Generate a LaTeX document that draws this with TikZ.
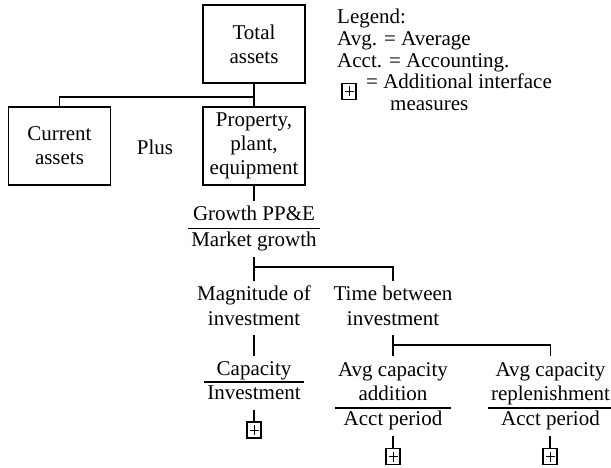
\documentclass[tikz,border=0pt]{standalone}
\usepackage{fontspec}
\setmainfont{Liberation Serif}
\usetikzlibrary{calc}
\setlength\tabcolsep{3bp}
\setlength\arrayrulewidth{1.5bp}
\begin{document}
\begin{tikzpicture}[x=1bp,y=-1bp,
  every node/.style={font=\fontsize{21bp}{24bp}\selectfont},
  conn/.style={line width=1.6bp},
  block/.style={draw, line width=1.8bp, minimum width=102bp, minimum height=78bp, align=center, inner sep=0},
  lbl/.style={inner sep=0, outer sep=3bp},
  addbox/.style={draw, line width=1.6bp, minimum width=14bp, minimum height=16bp, inner sep=0,
    path picture={
      \coordinate (pc) at (path picture bounding box.center);
      \draw[line width=0.8bp] ($(pc)+(-4.5bp,0)$) -- ($(pc)+(4.5bp,0)$)
                              ($(pc)+(0,-5bp)$) -- ($(pc)+(0,5bp)$);}},
]
\useasboundingbox (0,0) rectangle (611,468);

% top level: total assets and its two parts
\node[block] (total) at (254,44) {Total\\assets};
\node[block] (current) at (59.5,146) {Current\\assets};
\node[block] (ppe) at (254,146) {Property,\\plant,\\equipment};
\node (plus) at (155,147) {Plus};

% ratio chain
\node[lbl, anchor=north] (growth) at (254,201)
  {\begin{tabular}{c}Growth PP\&E\\\hline Market growth\end{tabular}};
\node[lbl, anchor=north] (mag) at (254,281.2)
  {\begin{tabular}{c}Magnitude of\\investment\end{tabular}};
\node[lbl, anchor=north] (time) at (393,281.2)
  {\begin{tabular}{c}Time between\\investment\end{tabular}};
\node[lbl, anchor=north] (capacity) at (254,356)
  {\begin{tabular}{c}Capacity\\\noalign{\vskip-2bp}\hline Investment\end{tabular}};
\node[lbl, anchor=north] (addition) at (393,356.2)
  {\begin{tabular}{c}Avg capacity\\addition\\\hline Acct period\end{tabular}};
\node[lbl, anchor=north] (repl) at (550.5,356.2)
  {\begin{tabular}{c}Avg capacity\\replenishment\\\hline Acct period\end{tabular}};

% additional interface measure markers
\node[addbox] (m1) at (254,430) {};
\node[addbox] (m2) at (393,456.5) {};
\node[addbox] (m3) at (550,456.5) {};

% legend
\node[anchor=base west, inner sep=0] (leg1) at (337,24) {Legend:};
\node[anchor=base west, inner sep=0] (leg2) at (337,46) {Avg. = Average};
\node[anchor=base west, inner sep=0] (leg3) at (337,68) {Acct. = Accounting.};
\node[addbox] (lbox) at (349,91.5) {};
\node[anchor=base west, inner sep=0] (leg4) at (366,89) {= Additional interface};
\node[anchor=base west, inner sep=0] (leg5) at (390,111) {measures};

% connectors
\coordinate (t1) at (254,97);
\coordinate (t2) at (254,267);
\coordinate (t3) at (393,345);
\draw[conn] (total.south) -- (ppe.north);
\draw[conn] (t1) -| (current.north);
\draw[conn] (ppe.south) -- (growth.north);
\draw[conn] (growth.south) -- (mag.north);
\draw[conn] (t2) -| (time.north);
\draw[conn] (mag.south) -- (capacity.north);
\draw[conn] (time.south) -- (addition.north);
\draw[conn] (t3) -| (repl.north);
\draw[conn] (capacity.south) -- (m1.north);
\draw[conn] (addition.south) -- (m2.north);
\draw[conn] (repl.south -| m3.north) -- (m3.north);
\end{tikzpicture}
\end{document}
